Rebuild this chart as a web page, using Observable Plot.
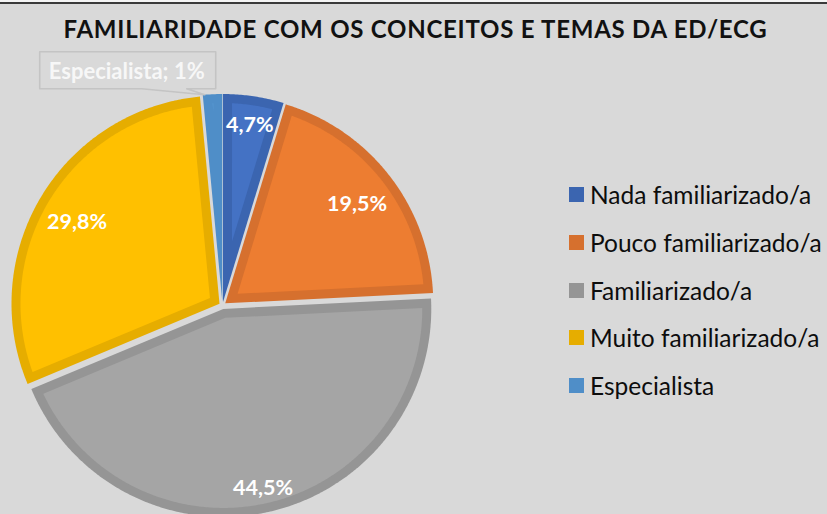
<!DOCTYPE html>
<html><head><meta charset="utf-8">
<script src="https://cdn.jsdelivr.net/npm/d3@7"></script>
<script src="https://cdn.jsdelivr.net/npm/@observablehq/plot@0.6"></script>
<style>
body{margin:0;background:#d9d9d9;}
#wrap{position:relative;width:827px;height:514px;overflow:hidden;background:#d9d9d9;font-family:Lato,sans-serif;}
#wrap > svg{position:absolute;left:0;top:0;}
#topline{position:absolute;left:0;top:0;width:827px;height:2px;background:#f4f4f4;border-bottom:2px solid #3a3a3a;}
#title{position:absolute;left:2px;width:827px;top:17px;text-align:center;font-family:Lato;font-weight:bold;font-size:24px;line-height:24px;letter-spacing:0.75px;color:#111;white-space:nowrap;}
#legend{position:absolute;left:569px;top:171px;width:258px;}
#legend .leg-swatches{font-family:Lato;font-size:24.5px;color:#0d0d0d;margin:0;}
#legend .leg-swatch{height:47.7px;padding:0;margin:0;display:flex;align-items:center;}
#legend .leg-swatch > svg{margin-right:6px;flex-shrink:0;}
#legend .leg-swatch-label{overflow:visible;}
</style></head>
<body><div id="wrap"><div id="topline"></div></div>
<script>
// ---- data ----
const categories = ["Nada familiarizado/a", "Pouco familiarizado/a", "Familiarizado/a", "Muito familiarizado/a", "Especialista"];
const values = [4.7, 19.5, 44.5, 29.8, 1.5];
const labels = ["4,7%", "19,5%", "44,5%", "29,8%", "Especialista; 1%"];
const fillColors = ["#4472c4", "#ed7d31", "#a5a5a5", "#ffc000", "#5b9bd5"];
const borderColors = ["#3b65b0", "#d6702e", "#959595", "#e6ad00", "#4f8ec8"];
const titleText = "FAMILIARIDADE COM OS CONCEITOS E TEMAS DA ED/ECG";

// ---- layout constants ----
const W = 827, H = 514, CX = 222, CY = 305, R = 208;
const EXPLODE = 3.5 / R, BORDER = 9 / R, STEP = Math.PI / 360, RIN = 196 / R;

const total = d3.sum(values);
let acc = 0;
const slices = categories.map((c, i) => {
  const a0 = acc / total * 2 * Math.PI; acc += values[i];
  const a1 = acc / total * 2 * Math.PI;
  const m = (a0 + a1) / 2;
  return {c, i, a0, a1, m, ox: EXPLODE * Math.sin(m), oy: EXPLODE * Math.cos(m)};
});

function arcPts(ox, oy, rho, s, e) {
  const n = Math.max(2, Math.ceil((e - s) / STEP));
  return d3.range(n + 1).map(k => {
    const a = s + (e - s) * k / n;
    return [ox + rho * Math.sin(a), oy + rho * Math.cos(a)];
  });
}

const outerPts = [], innerPts = [];
slices.forEach(s => {
  const outer = [[s.ox, s.oy], ...arcPts(s.ox, s.oy, 1, s.a0, s.a1), [s.ox, s.oy]];
  outer.forEach(([x, y]) => outerPts.push({key: s.c, x, y, fill: borderColors[s.i]}));
  const h = (s.a1 - s.a0) / 2, rho = 1 - BORDER, del = Math.asin(BORDER / rho);
  if (del < h) {
    const ad = BORDER / Math.sin(h);
    const ax = s.ox + ad * Math.sin(s.m), ay = s.oy + ad * Math.cos(s.m);
    const inner = [[ax, ay], ...arcPts(s.ox, s.oy, rho, s.a0 + del, s.a1 - del), [ax, ay]];
    inner.forEach(([x, y]) => innerPts.push({key: s.c, x, y, fill: fillColors[s.i]}));
  }
});

// inside-end labels
const inside = slices.filter(s => values[s.i] / total >= 0.03);
const labelData = inside.map(s => {
  const w = labels[s.i].length * 11.5 / R, hh = 10 / R;
  const rc = RIN - (Math.abs(Math.sin(s.m)) * w / 2 + Math.abs(Math.cos(s.m)) * hh);
  return {x: s.ox + rc * Math.sin(s.m), y: s.oy + rc * Math.cos(s.m), text: labels[s.i]};
});

// callout for small slice
const small = slices.filter(s => values[s.i] / total < 0.03);
const calloutLines = [], calloutText = [];
small.forEach(s => {
  const a = s.a0 + 0.1 * (s.a1 - s.a0);
  const tx = s.ox + Math.sin(a), ty = s.oy + Math.cos(a);
  const P = ([px, py]) => ({key: s.c, x: tx + px / R, y: ty - py / R});
  [[-165, -6], [-165, -43], [11, -43], [11, -6], [-18, -6], [0, 0], [-63, -6], [-165, -6]]
    .forEach(p => calloutLines.push(P(p)));
  calloutText.push({...P([-78, -24]), text: labels[s.i]});
});

const chart = Plot.plot({
  width: W, height: H, margin: 0,
  x: {domain: [-1, 1], range: [CX - R, CX + R], axis: null},
  y: {domain: [-1, 1], range: [CY + R, CY - R], axis: null},
  style: {background: "transparent", overflow: "visible"},
  marks: [
    Plot.line(outerPts, {x: "x", y: "y", z: "key", fill: "fill", stroke: "none", curve: "linear"}),
    Plot.line(innerPts, {x: "x", y: "y", z: "key", fill: "fill", stroke: "none", curve: "linear"}),
    Plot.text(labelData, {x: "x", y: "y", text: "text", fill: "white", fontWeight: "bold", fontSize: 21.5, fontFamily: "Lato", dy: 4}),
    Plot.line(calloutLines, {x: "x", y: "y", z: "key", stroke: "#c4c4c4", strokeWidth: 1.6, fill: "none"}),
    Plot.text(calloutText, {x: "x", y: "y", text: "text", fill: "#f7f7f7", fontWeight: "bold", fontSize: 22, fontFamily: "Lato", dy: 1})
  ]
});

const wrap = document.getElementById("wrap");
wrap.appendChild(chart);

const title = document.createElement("div");
title.id = "title"; title.textContent = titleText;
wrap.appendChild(title);

const legendDiv = document.createElement("div");
legendDiv.id = "legend";
legendDiv.appendChild(Plot.legend({
  color: {domain: categories, range: borderColors},
  legend: "swatches", columns: 1, swatchSize: 15, className: "leg"
}));
wrap.appendChild(legendDiv);
</script></body></html>
